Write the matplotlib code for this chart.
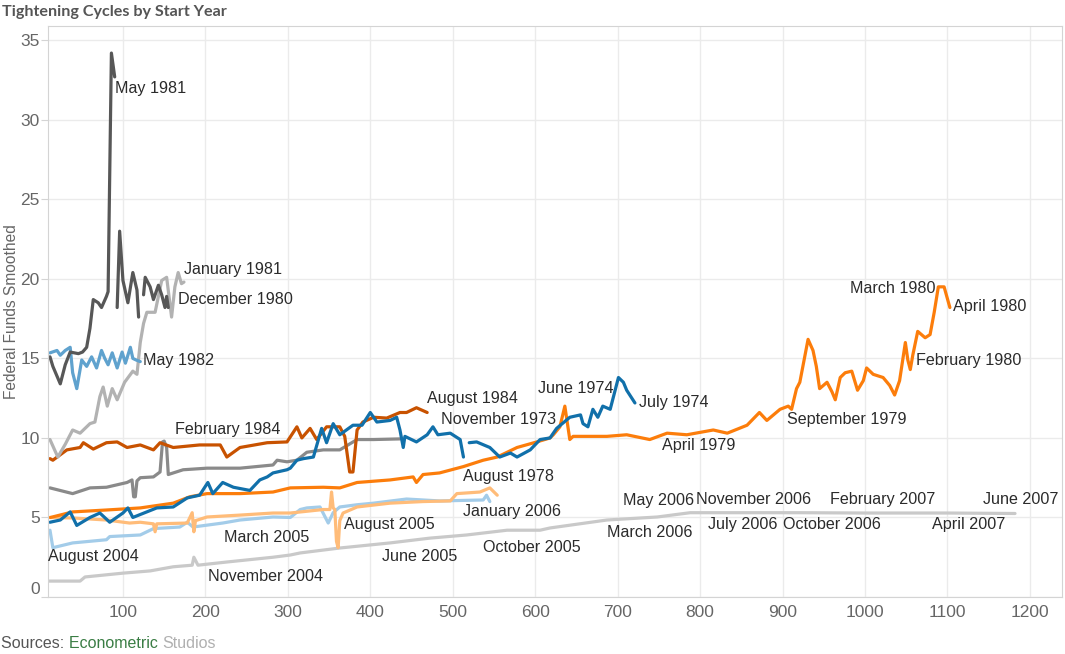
import matplotlib

matplotlib.use("Agg")
import matplotlib.pyplot as plt
import numpy as np

nan = np.nan

# one line per tightening cycle: x = days since start, y = fed funds (smoothed)
c2004_x = [9, 48, 54, 100, 133, 161, 184, 186, 191, 226, 282, 303, 315, 363, 424, 472, 517,
           566, 606, 618, 687, 748, 788, 850, 921, 1000, 1100, 1182]
c2004_y = [1.0, 1.0, 1.26, 1.5, 1.64, 1.9, 2.0, 2.5, 2.0, 2.2, 2.5, 2.64, 2.77, 3.08, 3.4, 3.7, 3.9,
           4.2, 4.2, 4.34, 4.84, 5.03, 5.3, 5.3, 5.3, 5.28, 5.28, 5.25]

c1994_x = [11.5, 15, 39, 80, 84, 121, 137, 169, 178, 185, 221, 242, 282, 303, 315, 323, 339, 349,
           355, 363, 384, 404, 444, 484, 537, 541, 545]
c1994_y = [4.2, 3.1, 3.4, 3.6, 3.8, 3.9, 4.3, 4.4, 4.7, 4.4, 4.65, 4.84, 5.03, 5.0, 5.5, 5.6, 5.66, 4.65,
           5.3, 5.66, 5.8, 5.9, 6.16, 6.04, 6.1, 6.4, 6.0]

c1999_x = [9, 39, 80, 108, 121, 137, 139, 141, 178, 184, 186, 188, 202, 242, 282, 303, 343, 351,
           353, 355, 357, 359, 361, 363, 367, 384, 424, 464, 497, 505, 533, 545, 554]
c1999_y = [5.0, 4.97, 4.84, 4.65, 4.7, 4.6, 4.1, 4.6, 4.65, 5.3, 4.1, 4.8, 5.03, 5.15, 5.28, 5.28, 5.5, 5.5,
           6.6, 5.6, 5.5, 3.5, 3.1, 4.8, 5.28, 5.66, 5.9, 6.0, 6.04, 6.5, 6.6, 6.86, 6.4]

c1977_x = [12, 39, 80, 121, 161, 181, 202, 242, 282, 303, 343, 363, 384, 424, 452, 456, 464, 484,
           513, 537, 554, 578, 602, 618, 622, 630, 636, 642, 646, 687, 711, 739, 760, 784, 816, 833,
           857, 872, 881, 897, 907, 911, 917, 921, 931, 937, 941, 945, 954, 960, 964, 970, 976, 984,
           991, 998, 1002, 1010, 1022, 1030, 1036, 1042, 1049, 1052, 1055, 1058, 1064, 1073, 1079,
           1084, 1089, 1096, 1103]
c1977_y = [5.0, 5.35, 5.47, 5.6, 5.9, 6.3, 6.5, 6.5, 6.6, 6.86, 6.9, 6.86, 7.2, 7.36, 7.55, 7.2, 7.7, 7.8,
           8.2, 8.6, 8.8, 9.4, 9.75, 10.0, 10.2, 10.7, 12.0, 9.9, 10.1, 10.1, 10.2, 9.9, 10.3, 10.2, 10.5, 10.3,
           10.8, 11.6, 11.1, 11.8, 12.0, 11.8, 13.1, 13.5, 16.2, 15.5, 14.5, 13.1, 13.5, 12.9, 12.4, 13.8, 14.1, 14.2,
           13.0, 13.6, 14.4, 14.0, 13.8, 13.3, 12.7, 13.6, 16.0, 14.9, 14.3, 15.2, 16.7, 16.3, 16.5,
           17.9, 19.5, 19.5, 18.2]

c1986_x = [11.5, 39, 60, 80, 105, 111, 113, 115, 117, 121, 137, 145, 148, 150, 153, 155, 173, 202,
           242, 282, 287, 299, 311, 323, 343, 363, 384, 404, 436]
c1986_y = [6.86, 6.5, 6.86, 6.9, 7.2, 7.36, 6.3, 6.3, 7.3, 7.5, 7.55, 7.86, 9.75, 9.8, 9.4, 7.7, 8.0, 8.1,
           8.1, 8.3, 8.6, 8.5, 8.6, 9.1, 9.25, 9.25, 9.9, 9.9, 9.94]

c1983_x = [11.5, 15, 32, 48, 52, 64, 80, 93, 105, 121, 137, 145, 161, 193, 218, 226, 242, 275, 299,
           311, 317, 327, 335, 347, 363, 369, 375, 379, 384, 391, 404, 420, 436, 444, 456, 469]
c1983_y = [8.7, 8.6, 9.25, 9.4, 9.7, 9.3, 9.7, 9.75, 9.4, 9.56, 9.25, 9.7, 9.4, 9.56, 9.56, 8.8, 9.4, 9.7, 9.75,
           10.7, 10.0, 10.6, 9.9, 10.7, 10.7, 10.1, 7.86, 7.86, 10.5, 11.0, 11.3, 11.25, 11.6, 11.6, 11.9, 11.6]

c1972_x = [11.5, 24, 36, 44, 60, 72, 84, 100, 106, 112, 141, 161, 178, 193, 203, 209, 221, 234, 254,
           266, 275, 282, 299, 303, 311, 319, 331, 341, 347, 355, 363, 379, 390, 400, 408, 424, 432,
           436, 440, 442, 456, 469, 476, 482, 497, 509, 513, 516, 520, 529, 545, 557, 570, 578, 594,
           606, 618, 626, 642, 655, 658, 664, 670, 676, 682, 691, 697, 701, 707, 711, 721]
c1972_y = [4.7, 4.84, 5.35, 4.5, 5.0, 5.28, 4.7, 5.28, 5.6, 5.0, 5.6, 5.66, 6.23, 6.4, 7.2, 6.5, 7.2, 6.9, 6.7,
           7.36, 7.55, 7.8, 8.0, 8.1, 8.6, 8.7, 8.8, 10.6, 9.7, 10.9, 10.2, 10.8, 10.8, 11.6, 11.0, 11.1, 11.3,
           10.5, 9.4, 10.1, 9.75, 10.2, 10.7, 10.2, 10.3, 9.9, 8.8, nan, 9.7, 9.75, 9.4, 8.8, 9.05, 8.8, 9.25,
           9.9, 10.0, 10.6, 11.3, 11.45, 10.9, 10.7, 11.8, 11.3, 12.0, 11.8, 13.0, 13.8, 13.5, 13.0, 12.2]

c1980_x = [11.5, 21, 30, 39, 48, 60, 66, 72, 76, 81, 87, 93, 102, 112, 117, 121, 125, 129, 139, 147,
           153, 159, 163, 167, 171, 174]
c1980_y = [9.9, 8.8, 9.6, 10.5, 10.3, 10.9, 11.0, 12.6, 13.2, 12.0, 13.1, 12.4, 13.5, 14.2, 14.0, 16.0,
           17.2, 17.9, 17.9, 19.9, 20.1, 17.6, 19.5, 20.4, 19.7, 19.8]

c1982_x = [11.5, 20, 24, 30, 36, 39, 44, 50, 56, 62, 68, 74, 78, 82, 87, 93, 99, 103, 109, 112, 116, 121]
c1982_y = [15.35, 15.5, 15.2, 15.5, 15.7, 14.1, 13.1, 14.9, 14.5, 15.1, 14.4, 15.5, 15.0, 14.6, 15.35,
           14.4, 15.4, 14.7, 15.7, 15.0, 14.9, 14.8]

c1981_x = [11.5, 15, 24, 30, 36, 46, 51, 56, 60, 64, 70, 74, 80, 82, 86, 90, 91, 93, 96, 100, 103, 106,
           112, 117, 119, 121, 125, 127, 133, 137, 143, 147, 151, 153, 155]
c1981_y = [15.1, 14.5, 13.4, 14.6, 15.4, 15.3, 15.4, 15.7, 16.9, 18.7, 18.5, 18.2, 18.9, 19.2, 34.2, 32.7,
           nan, 18.2, 23.0, 19.9, 19.2, 18.5, 20.4, 19.3, 17.6, nan, 19.0, 20.1, 19.5, 18.7, 19.6, 19.0, 18.2,
           18.9, 18.2]

lines = [
    (c2004_x, c2004_y, "#c9c9c9"),
    (c1994_x, c1994_y, "#a3cce9"),
    (c1999_x, c1999_y, "#ffbc79"),
    (c1977_x, c1977_y, "#fc7d0b"),
    (c1986_x, c1986_y, "#8a8a8a"),
    (c1983_x, c1983_y, "#c85200"),
    (c1972_x, c1972_y, "#1170aa"),
    (c1980_x, c1980_y, "#b2b2b2"),
    (c1982_x, c1982_y, "#5fa2ce"),
    (c1981_x, c1981_y, "#575757"),
]

label_text = ["May 1981", "January 1981", "December 1980", "May 1982", "February 1984",
              "August 1984", "November 1973", "June 1974", "July 1974", "August 1978",
              "April 1979", "September 1979", "February 1980", "March 1980", "April 1980",
              "August 2004", "November 2004", "March 2005", "August 2005", "June 2005",
              "January 2006", "October 2005", "March 2006", "May 2006", "November 2006",
              "July 2006", "October 2006", "February 2007", "April 2007", "June 2007"]
label_x = [90, 174, 167, 124, 163, 469, 486, 603, 726, 512, 754, 905, 1062, 982, 1107,
           9, 203, 223, 368, 414, 512, 537, 687, 706, 795, 810, 901, 958, 1081, 1143]
label_y = [31.95, 20.57, 18.68, 14.84, 10.5, 12.5, 11.13, 13.14, 12.26, 7.55, 9.5, 11.13, 14.84,
           19.37, 18.24, 2.52, 1.26, 3.77, 4.53, 2.52, 5.35, 3.14, 4.03, 6.04, 6.16, 4.53, 4.53,
           6.16, 4.53, 6.16]

narrow = ["Liberation Sans Narrow", "Liberation Sans", "DejaVu Sans"]

fig = plt.figure(figsize=(10.65, 6.54), dpi=100)
ax = fig.add_axes([48 / 1065, 57 / 654, 1014 / 1065, 571 / 654])

for xs, ys, color in lines:
    ax.plot(xs, ys, color=color, linewidth=2.3, solid_joinstyle="round", solid_capstyle="round")

for t, x, y in zip(label_text, label_x, label_y):
    ax.text(x, y, t, ha="left", va="center", fontsize=11.6, color="#2b2b2b",
            family=["Liberation Sans", "DejaVu Sans"])

ax.set_xlim(9.1, 1239)
ax.set_ylim(0, 35.9)
ax.set_xticks(np.arange(100, 1201, 100))
ax.set_yticks(np.arange(0, 36, 5))
ax.grid(True, color="#ebebeb", linewidth=1)
ax.set_axisbelow(True)
for s in ax.spines.values():
    s.set_color("#d4d4d4")
ax.tick_params(axis="x", length=0, pad=6, labelsize=12.5, labelcolor="#666666")
ax.tick_params(axis="y", length=5, width=0.8, color="#d4d4d4", pad=1, labelsize=12.5,
               labelcolor="#666666")
for lab in ax.get_xticklabels() + ax.get_yticklabels():
    lab.set_family(narrow)
for lab in ax.get_yticklabels():
    if lab.get_text() == "0":
        lab.set_va("bottom")

ax.set_ylabel("Federal Funds Smoothed", fontsize=11.2, color="#666666",
              family=["Liberation Sans", "DejaVu Sans"])
ax.yaxis.set_label_coords(-29 / 1014, 0.5)

fig.text(2 / 1065, 1 - 12 / 654, "Tightening Cycles by Start Year", ha="left", va="center",
         fontsize=11.6, fontweight="bold", color="#555555", family=["Lato", "DejaVu Sans"])

# source line in three colours
fig.canvas.draw()
renderer = fig.canvas.get_renderer()
x0 = 1 / 1065
for part, col in [("Sources: ", "#555555"), ("Econometric ", "#3a7d44"), ("Studios", "#b0b0b0")]:
    t = fig.text(x0, 1 - 643 / 654, part, ha="left", va="center", fontsize=11.5, color=col,
                 family=narrow)
    bb = t.get_window_extent(renderer)
    x0 += bb.width / fig.bbox.width

fig.savefig("out.png", dpi=100)
